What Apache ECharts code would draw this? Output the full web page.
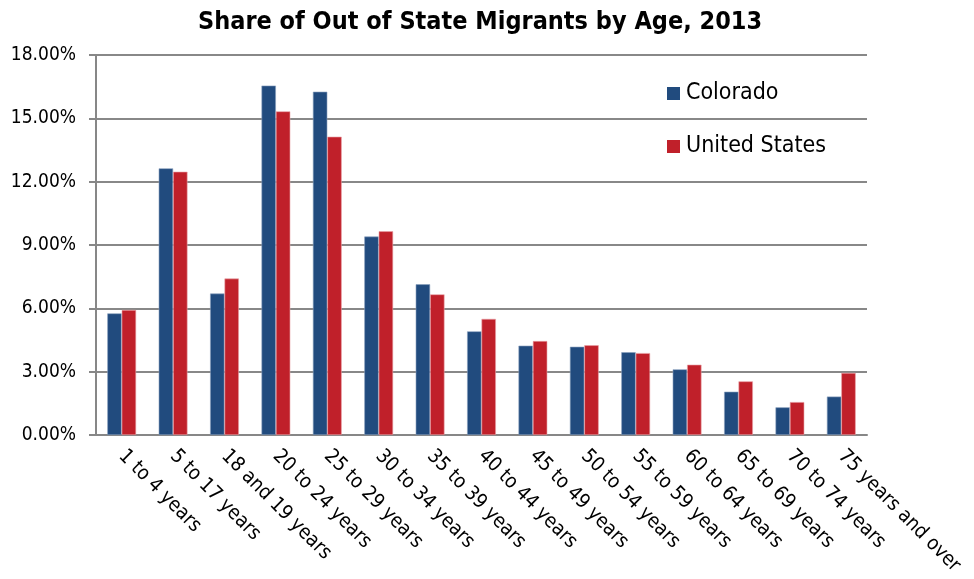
<!DOCTYPE html>
<html>
<head>
<meta charset="utf-8">
<script src="https://cdn.jsdelivr.net/npm/echarts@6/dist/echarts.min.js"></script>
<style>
  html, body { margin: 0; padding: 0; background: #fff; }
  #chart { width: 974px; height: 579px; }
</style>
</head>
<body>
<div id="chart"></div>
<script>
// Age groups and share of out-of-state migrants (%) in 2013
var ageGroups = ['1 to 4 years', '5 to 17 years', '18 and 19 years', '20 to 24 years',
  '25 to 29 years', '30 to 34 years', '35 to 39 years', '40 to 44 years',
  '45 to 49 years', '50 to 54 years', '55 to 59 years', '60 to 64 years',
  '65 to 69 years', '70 to 74 years', '75 years and over'];
var colorado = [5.76, 12.63, 6.70, 16.55, 16.26, 9.40, 7.14, 4.91, 4.23, 4.18, 3.92, 3.11, 2.05, 1.31, 1.82];
var unitedStates = [5.92, 12.47, 7.41, 15.33, 14.13, 9.65, 6.66, 5.50, 4.45, 4.25, 3.88, 3.33, 2.54, 1.56, 2.94];

var FONT = '"DejaVu Sans Condensed", "DejaVu Sans", sans-serif';
var chart = echarts.init(document.getElementById('chart'), null, { renderer: 'canvas' });

chart.setOption({
  animation: false,
  backgroundColor: '#ffffff',
  title: {
    text: 'Share of Out of State Migrants by Age, 2013',
    left: 193,
    top: 5,
    textStyle: { fontFamily: FONT, fontSize: 25, fontWeight: 'bold', color: '#000' }
  },
  legend: {
    orient: 'vertical',
    left: 667,
    top: 82,
    padding: 0,
    itemWidth: 13,
    itemHeight: 13,
    itemGap: 30,
    icon: 'rect',
    itemStyle: { borderWidth: 0 },
    textStyle: { fontFamily: FONT, fontSize: 23, color: '#000', padding: [0, 0, 0, 1] },
    data: ['Colorado', 'United States']
  },
  grid: { left: 96, right: 107, top: 55, bottom: 144, containLabel: false },
  xAxis: {
    type: 'category',
    data: ageGroups,
    axisLine: { lineStyle: { color: '#878787', width: 2 } },
    axisTick: { alignWithLabel: false, length: 7, lineStyle: { color: '#878787', width: 2 } },
    axisLabel: {
      rotate: -45,
      interval: 0,
      margin: 18,
      fontFamily: FONT,
      fontSize: 20,
      color: '#000'
    }
  },
  yAxis: {
    type: 'value',
    min: 0,
    max: 18,
    interval: 3,
    axisLine: { show: true, lineStyle: { color: '#878787', width: 2 } },
    axisTick: { show: true, length: 7, lineStyle: { color: '#878787', width: 2 } },
    splitLine: { lineStyle: { color: '#888888', width: 2 } },
    axisLabel: {
      margin: 20,
      fontFamily: FONT,
      fontSize: 19,
      color: '#000',
      formatter: function (v) { return v.toFixed(2) + '%'; }
    }
  },
  series: [
    {
      name: 'Colorado',
      type: 'bar',
      data: colorado,
      barGap: '0%',
      barCategoryGap: '44%',
      itemStyle: { color: '#214b7e', borderColor: '#8aa0bd', borderWidth: 0.6 }
    },
    {
      name: 'United States',
      type: 'bar',
      data: unitedStates,
      itemStyle: { color: '#c0202a', borderColor: '#e9a3a7', borderWidth: 0.6 }
    }
  ]
});
</script>
</body>
</html>
